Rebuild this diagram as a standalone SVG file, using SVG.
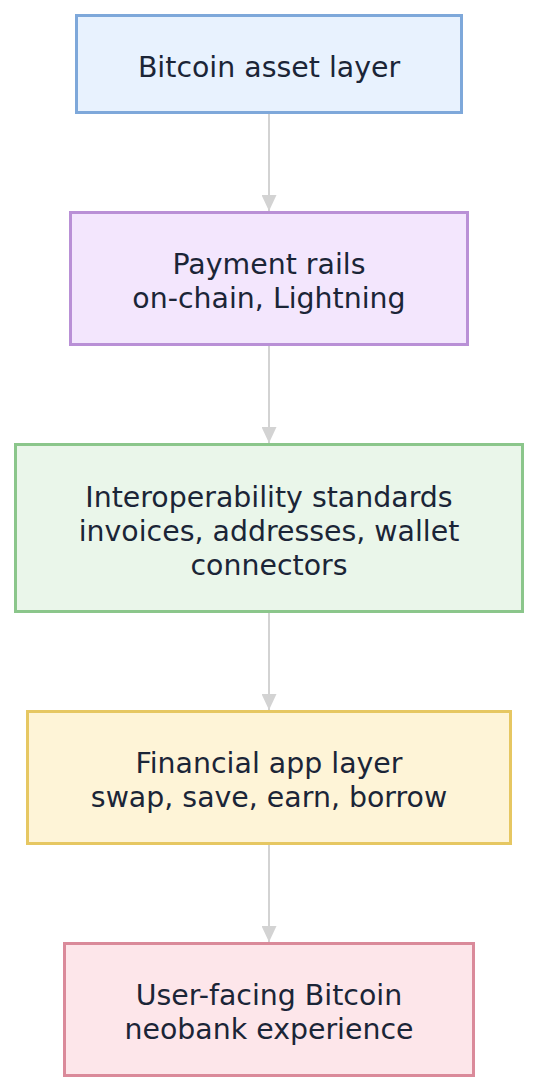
<svg xmlns="http://www.w3.org/2000/svg" width="538" height="1092" viewBox="0 0 538 1092">
<defs>
<marker id="arrow" viewBox="0 0 16 15" refX="16" refY="7.5" markerUnits="userSpaceOnUse" markerWidth="16" markerHeight="15" orient="auto">
<path d="M0,0 L16,7.5 L0,15 Z" fill="#d3d3d3"/>
</marker>
</defs>
<style>
.node rect{stroke-width:3}
.node text{font-family:"DejaVu Sans",sans-serif;font-size:28.4px;fill:#1b2537;text-anchor:middle}
.edge{stroke:#d3d3d3;stroke-width:2;fill:none}
</style>
<rect width="538" height="1092" fill="#ffffff"/>
<g id="connectors">
<path class="edge" d="M269,114 L269,211" marker-end="url(#arrow)"/>
<path class="edge" d="M269,346 L269,443" marker-end="url(#arrow)"/>
<path class="edge" d="M269,613 L269,710" marker-end="url(#arrow)"/>
<path class="edge" d="M269,845 L269,942" marker-end="url(#arrow)"/>
</g>
<g id="node1" class="node">
<rect x="76.5" y="15.5" width="385" height="97" fill="#e8f2fe" stroke="#7ea8da"/>
<text x="269" y="77">Bitcoin asset layer</text>
</g>
<g id="node2" class="node">
<rect x="70.5" y="212.5" width="397" height="132" fill="#f3e6fd" stroke="#b990d6"/>
<text x="269" y="274">Payment rails</text>
<text x="269" y="308">on-chain, Lightning</text>
</g>
<g id="node3" class="node">
<rect x="15.5" y="444.5" width="507" height="167" fill="#eaf6ea" stroke="#8bc68b"/>
<text x="269" y="507">Interoperability standards</text>
<text x="269" y="541">invoices, addresses, wallet</text>
<text x="269" y="575">connectors</text>
</g>
<g id="node4" class="node">
<rect x="27.5" y="711.5" width="483" height="132" fill="#fef4d7" stroke="#e6c762"/>
<text x="269" y="773">Financial app layer</text>
<text x="269" y="807">swap, save, earn, borrow</text>
</g>
<g id="node5" class="node">
<rect x="64.5" y="943.5" width="409" height="132" fill="#fde6ea" stroke="#da8a9a"/>
<text x="269" y="1005">User-facing Bitcoin</text>
<text x="269" y="1039">neobank experience</text>
</g>
</svg>
